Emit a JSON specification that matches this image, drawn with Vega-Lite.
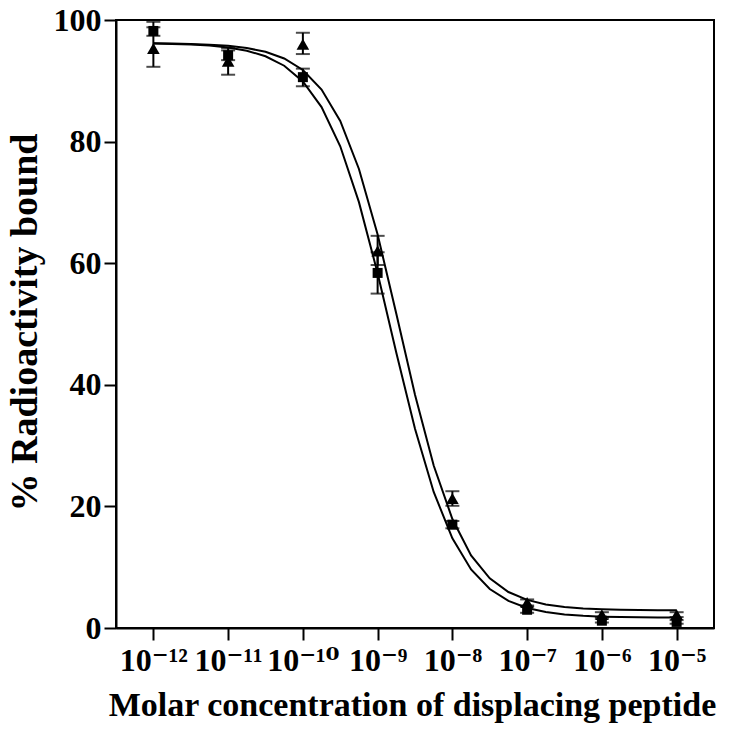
{
  "$schema": "https://vega.github.io/schema/vega-lite/v6.json",
  "width": 598,
  "height": 608,
  "autosize": {"type": "none"},
  "padding": {"left": 116, "top": 20, "right": 15, "bottom": 104},
  "background": "white",
  "config": {
    "view": {"stroke": "black", "strokeWidth": 2},
    "font": "Liberation Serif",
    "axis": {
      "grid": false,
      "domainColor": "black",
      "domainWidth": 2,
      "tickColor": "black",
      "tickWidth": 2,
      "labelFont": "Liberation Serif, DejaVu Serif",
      "labelFontWeight": "bold",
      "labelColor": "black",
      "titleFont": "Liberation Serif",
      "titleFontWeight": "bold",
      "titleColor": "black"
    }
  },
  "datasets": {
    "curves": [
      {"series": "square", "logc": -12, "pct": 96.12},
      {"series": "square", "logc": -11.75, "pct": 96.06},
      {"series": "square", "logc": -11.5, "pct": 95.96},
      {"series": "square", "logc": -11.25, "pct": 95.79},
      {"series": "square", "logc": -11, "pct": 95.48},
      {"series": "square", "logc": -10.75, "pct": 94.95},
      {"series": "square", "logc": -10.5, "pct": 94.04},
      {"series": "square", "logc": -10.25, "pct": 92.48},
      {"series": "square", "logc": -10, "pct": 89.88},
      {"series": "square", "logc": -9.75, "pct": 85.68},
      {"series": "square", "logc": -9.5, "pct": 79.23},
      {"series": "square", "logc": -9.25, "pct": 70.04},
      {"series": "square", "logc": -9, "pct": 58.34},
      {"series": "square", "logc": -8.75, "pct": 45.27},
      {"series": "square", "logc": -8.5, "pct": 32.76},
      {"series": "square", "logc": -8.25, "pct": 22.37},
      {"series": "square", "logc": -8, "pct": 14.76},
      {"series": "square", "logc": -7.75, "pct": 9.63},
      {"series": "square", "logc": -7.5, "pct": 6.41},
      {"series": "square", "logc": -7.25, "pct": 4.45},
      {"series": "square", "logc": -7, "pct": 3.3},
      {"series": "square", "logc": -6.75, "pct": 2.62},
      {"series": "square", "logc": -6.5, "pct": 2.23},
      {"series": "square", "logc": -6.25, "pct": 2.0},
      {"series": "square", "logc": -6, "pct": 1.87},
      {"series": "square", "logc": -5.75, "pct": 1.8},
      {"series": "square", "logc": -5.5, "pct": 1.76},
      {"series": "square", "logc": -5.25, "pct": 1.73},
      {"series": "square", "logc": -5, "pct": 1.72},
      {"series": "triangle", "logc": -12, "pct": 96.16},
      {"series": "triangle", "logc": -11.75, "pct": 96.12},
      {"series": "triangle", "logc": -11.5, "pct": 96.06},
      {"series": "triangle", "logc": -11.25, "pct": 95.95},
      {"series": "triangle", "logc": -11, "pct": 95.75},
      {"series": "triangle", "logc": -10.75, "pct": 95.39},
      {"series": "triangle", "logc": -10.5, "pct": 94.77},
      {"series": "triangle", "logc": -10.25, "pct": 93.67},
      {"series": "triangle", "logc": -10, "pct": 91.78},
      {"series": "triangle", "logc": -9.75, "pct": 88.56},
      {"series": "triangle", "logc": -9.5, "pct": 83.39},
      {"series": "triangle", "logc": -9.25, "pct": 75.5},
      {"series": "triangle", "logc": -9, "pct": 64.72},
      {"series": "triangle", "logc": -8.75, "pct": 51.7},
      {"series": "triangle", "logc": -8.5, "pct": 38.38},
      {"series": "triangle", "logc": -8.25, "pct": 26.72},
      {"series": "triangle", "logc": -8, "pct": 17.92},
      {"series": "triangle", "logc": -7.75, "pct": 11.93},
      {"series": "triangle", "logc": -7.5, "pct": 8.18},
      {"series": "triangle", "logc": -7.25, "pct": 5.92},
      {"series": "triangle", "logc": -7, "pct": 4.62},
      {"series": "triangle", "logc": -6.75, "pct": 3.87},
      {"series": "triangle", "logc": -6.5, "pct": 3.44},
      {"series": "triangle", "logc": -6.25, "pct": 3.2},
      {"series": "triangle", "logc": -6, "pct": 3.07},
      {"series": "triangle", "logc": -5.75, "pct": 2.99},
      {"series": "triangle", "logc": -5.5, "pct": 2.95},
      {"series": "triangle", "logc": -5.25, "pct": 2.93},
      {"series": "triangle", "logc": -5, "pct": 2.92}
    ],
    "points": [
      {"series": "square", "logc": -12, "pct": 98.2, "lo": 97.4, "hi": 98.8},
      {"series": "square", "logc": -11, "pct": 94.2, "lo": 93.4, "hi": 95.0},
      {"series": "square", "logc": -10, "pct": 90.6, "lo": 89.1, "hi": 92.0},
      {"series": "square", "logc": -9, "pct": 58.4, "lo": 55.0, "hi": 61.8},
      {"series": "square", "logc": -8, "pct": 17.0, "lo": 16.4, "hi": 17.6},
      {"series": "square", "logc": -7, "pct": 3.0, "lo": 2.5, "hi": 3.5},
      {"series": "square", "logc": -6, "pct": 1.2, "lo": 0.9, "hi": 1.5},
      {"series": "square", "logc": -5, "pct": 1.0, "lo": 0.7, "hi": 1.3},
      {"series": "triangle", "logc": -12, "pct": 95.3, "lo": 92.3, "hi": 99.7},
      {"series": "triangle", "logc": -11, "pct": 93.2, "lo": 91.0, "hi": 95.4},
      {"series": "triangle", "logc": -10, "pct": 96.0, "lo": 94.4, "hi": 97.9},
      {"series": "triangle", "logc": -9, "pct": 62.0, "lo": 59.7, "hi": 64.5},
      {"series": "triangle", "logc": -8, "pct": 21.3, "lo": 20.1, "hi": 22.5},
      {"series": "triangle", "logc": -7, "pct": 4.2, "lo": 3.7, "hi": 4.7},
      {"series": "triangle", "logc": -6, "pct": 2.2, "lo": 1.8, "hi": 2.6},
      {"series": "triangle", "logc": -5, "pct": 2.2, "lo": 1.8, "hi": 2.6}
    ]
  },
  "encoding": {
    "x": {
      "field": "logc",
      "type": "quantitative",
      "scale": {"domain": [-12.5, -4.5], "nice": false, "zero": false},
      "axis": {
        "values": [-12, -11, -10, -9, -8, -7, -6, -5],
        "labelExpr": "datum.value == -12 ? '10⁻¹²' : datum.value == -11 ? '10⁻¹¹' : datum.value == -10 ? '10⁻¹⁰' : datum.value == -9 ? '10⁻⁹' : datum.value == -8 ? '10⁻⁸' : datum.value == -7 ? '10⁻⁷' : datum.value == -6 ? '10⁻⁶' : '10⁻⁵'",
        "labelFontSize": 32,
        "tickSize": 12,
        "labelPadding": 5,
        "labelFlush": false,
        "labelOverlap": false,
        "title": "Molar concentration of displacing peptide",
        "titleFontSize": 34,
        "titleX": 296,
        "titleY": 77,
        "titleBaseline": "middle",
        "titleAlign": "center"
      }
    },
    "y": {
      "field": "pct",
      "type": "quantitative",
      "scale": {"domain": [0, 100], "nice": false},
      "axis": {
        "values": [0, 20, 40, 60, 80, 100],
        "labelFontSize": 32,
        "tickSize": 12,
        "labelPadding": 3,
        "labelFlush": false,
        "labelOverlap": false,
        "title": "% Radioactivity bound",
        "titleFontSize": 38,
        "titleAngle": -90,
        "titleX": -91,
        "titleY": 302,
        "titleBaseline": "middle",
        "titleAlign": "center"
      }
    }
  },
  "layer": [
    {
      "data": {"name": "curves"},
      "mark": {"type": "line", "color": "black", "strokeWidth": 2},
      "encoding": {"detail": {"field": "series"}}
    },
    {
      "data": {"name": "points"},
      "mark": {"type": "rule", "color": "black", "strokeWidth": 2},
      "encoding": {"y": {"field": "lo", "type": "quantitative"}, "y2": {"field": "hi"}}
    },
    {
      "data": {"name": "points"},
      "mark": {"type": "tick", "color": "black", "thickness": 2, "size": 14, "orient": "horizontal"},
      "encoding": {"y": {"field": "lo", "type": "quantitative"}}
    },
    {
      "data": {"name": "points"},
      "mark": {"type": "tick", "color": "black", "thickness": 2, "size": 14, "orient": "horizontal"},
      "encoding": {"y": {"field": "hi", "type": "quantitative"}}
    },
    {
      "data": {"name": "points"},
      "mark": {"type": "point", "filled": true, "opacity": 1, "color": "black"},
      "encoding": {
        "shape": {"field": "series", "type": "nominal", "scale": {"domain": ["square", "triangle"], "range": ["square", "triangle-up"]}, "legend": null},
        "size": {"field": "series", "type": "nominal", "scale": {"domain": ["square", "triangle"], "range": [100, 160]}, "legend": null}
      }
    }
  ]
}
